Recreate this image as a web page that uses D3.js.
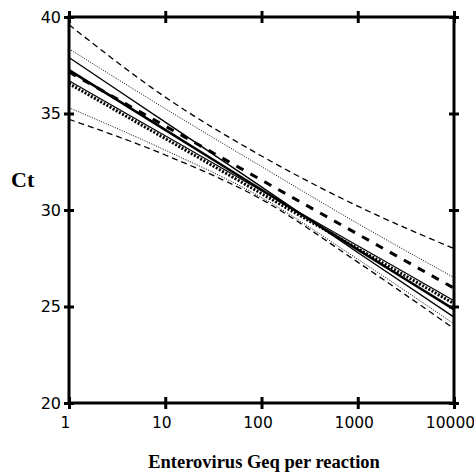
<!DOCTYPE html>
<meta charset="utf-8">
<style>
 body { margin: 0; background: #fff; }
 .tick text { font: 16px "DejaVu Sans", Verdana, sans-serif; fill: #000; }
 .label { font: bold 18px "Liberation Serif", "Times New Roman", serif; }
</style>
<body>
<svg width="474" height="473"></svg>
<script src="https://d3js.org/d3.v7.min.js"></script>
<script>

// copies per reaction (decades) and tick values
var xTicks = [1, 10, 100, 1000, 10000];
var yTicks = [20, 25, 30, 35, 40];

// Ct at each decade
var thinSolid   = [37.9, 34.55, 31.2, 27.8, 24.45];
var thickSolid  = [37.25, 34.15, 31.05, 27.95, 24.85];
var boldDashed  = [37.15, 34.35, 31.55, 28.75, 25.95];
var boldDotted  = [36.65, 33.8, 30.95, 28.1, 25.25];
var upperDotted = [38.35, 35.25, 32.25, 29.3, 26.5];
var lowerDotted = [35.3, 33.1, 30.65, 27.45, 24.1];
var upperDashed = [39.6, 35.85, 32.8, 30.2, 28.0];
var lowerDashed = [34.7, 32.85, 30.55, 27.3, 23.85];

var svg = d3.select("svg");
var x = d3.scaleLog().domain([1, 10000]).range([69, 454]);
var y = d3.scaleLinear().domain([20, 40]).range([403, 17]);

var line = d3.line()
    .x(function(d, i) { return x(xTicks[i]); })
    .y(function(d) { return y(d); })
    .curve(d3.curveMonotoneX);

var plot = svg.append("g");

function draw(vals, width, dash) {
  plot.append("path")
      .attr("d", line(vals))
      .attr("fill", "none")
      .attr("stroke", "#000")
      .attr("stroke-width", width)
      .attr("stroke-dasharray", dash);
}

draw(upperDashed, 1.3, "6,4");
draw(lowerDashed, 1.3, "6,4");
draw(upperDotted, 1, "1,1.5");
draw(lowerDotted, 1, "1,1.5");
draw(thinSolid, 1.4, null);
draw(thickSolid, 2.6, null);
draw(boldDashed, 3, "8,8");
// hatched line: thin solid with square dots underneath
draw(boldDotted.map(function(v) { return v + 0.05; }), 1.2, null);
draw(boldDotted.map(function(v) { return v - 0.1; }), 3, "2,1.6");

// frame
var ax = svg.append("g");
function axisStyle(g) {
  g.select(".domain").remove();
  g.selectAll(".tick line").attr("stroke", "#000").attr("stroke-width", 3);
}

ax.append("g")
    .attr("transform", "translate(0," + y(20) + ")")
    .call(d3.axisBottom(x).tickValues(xTicks).tickFormat(d3.format("d")).tickSize(5).tickPadding(9))
    .call(axisStyle)
    .call(function(g) {
      g.selectAll(".tick line").attr("y1", -6).attr("y2", 6);
      g.selectAll(".tick text").attr("dx", -4).style("font-size", "15.5px");
    });

ax.append("g")
    .attr("transform", "translate(0," + y(40) + ")")
    .call(d3.axisTop(x).tickValues(xTicks).tickFormat("").tickSize(6))
    .call(axisStyle)
    .call(function(g) { g.selectAll(".tick line").attr("y1", -6).attr("y2", 6); });

ax.append("g")
    .attr("transform", "translate(" + x(1) + ",0)")
    .call(d3.axisLeft(y).tickValues(yTicks).tickSize(5).tickPadding(3))
    .call(axisStyle)
    .call(function(g) { g.selectAll(".tick line").attr("x1", -5).attr("x2", 5); });

ax.append("g")
    .attr("transform", "translate(" + x(10000) + ",0)")
    .call(d3.axisRight(y).tickValues(yTicks).tickFormat("").tickSize(5))
    .call(axisStyle)
    .call(function(g) { g.selectAll(".tick line").attr("x1", -5).attr("x2", 5); });

ax.append("rect")
    .attr("x", x(1)).attr("y", y(40))
    .attr("width", x(10000) - x(1)).attr("height", y(20) - y(40))
    .attr("fill", "none").attr("stroke", "#000").attr("stroke-width", 3);

svg.append("text").attr("class", "label")
    .attr("x", 11).attr("y", 187)
    .style("font-size", "22px")
    .text("Ct");

svg.append("text").attr("class", "label")
    .attr("x", 264).attr("y", 468).attr("text-anchor", "middle")
    .style("font-size", "18.5px")
    .text("Enterovirus Geq per reaction");

</script>
</body>
